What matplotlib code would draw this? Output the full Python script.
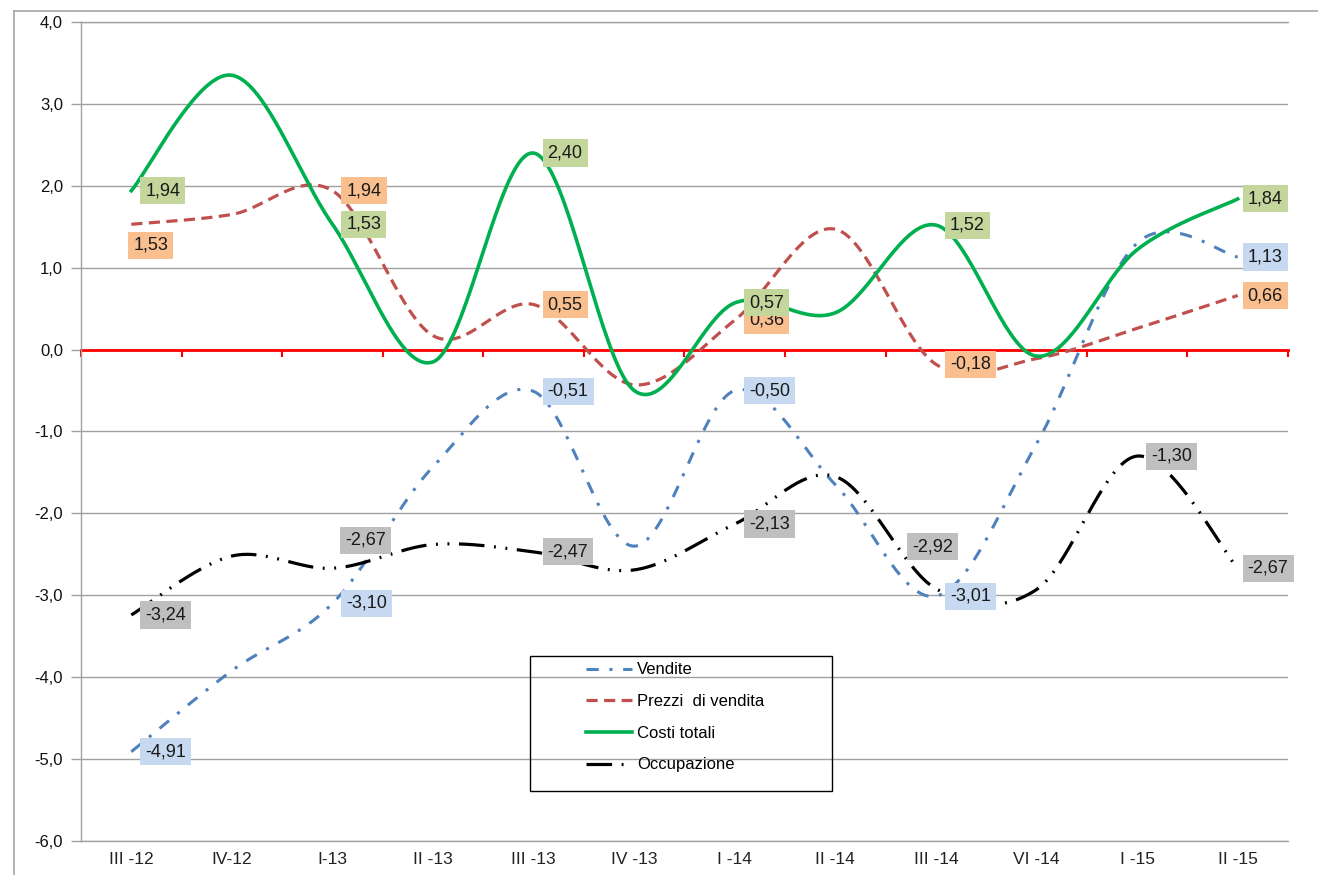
import numpy as np
import matplotlib
matplotlib.use("Agg")
import matplotlib.pyplot as plt
from matplotlib.lines import Line2D
from matplotlib.patches import Rectangle

# dati
trimestri = ["III -12", "IV-12", "I-13", "II -13", "III -13", "IV -13",
             "I -14", "II -14", "III -14", "VI -14", "I -15", "II -15"]
vendite = [-4.91, -3.92, -3.10, -1.43, -0.51, -2.40, -0.50, -1.65, -3.01, -1.15, 1.30, 1.13]
prezzi = [1.53, 1.65, 1.94, 0.17, 0.55, -0.43, 0.36, 1.47, -0.18, -0.11, 0.26, 0.66]
costi = [1.94, 3.35, 1.53, -0.15, 2.40, -0.50, 0.57, 0.45, 1.52, -0.08, 1.22, 1.84]
occupazione = [-3.24, -2.52, -2.67, -2.38, -2.47, -2.69, -2.13, -1.55, -2.92, -2.93, -1.30, -2.67]

# punti con etichetta
idx_vendite = [0, 2, 4, 6, 8, 11]
idx_prezzi = [0, 2, 4, 6, 8, 11]
idx_costi = [0, 2, 4, 6, 8, 11]
idx_occupazione = [0, 2, 4, 6, 8, 10, 11]


def smooth(x, y, n=40):
    # linea smussata tipo Excel (spline di Bezier con tangenti Catmull-Rom)
    pts = np.column_stack([x, y]).astype(float)
    P = np.vstack([pts[0], pts, pts[-1]])
    out = []
    t = np.linspace(0, 1, n)[:, None]
    for i in range(1, len(P) - 2):
        p0, p1, p2, p3 = P[i - 1], P[i], P[i + 1], P[i + 2]
        c1 = p1 + (p2 - p0) / 6
        c2 = p2 - (p3 - p1) / 6
        seg = (1 - t)**3 * p1 + 3 * (1 - t)**2 * t * c1 + 3 * (1 - t) * t**2 * c2 + t**3 * p2
        out.append(seg if i == 1 else seg[1:])
    s = np.vstack(out)
    return s[:, 0], s[:, 1]


def fmt(v):
    return f"{v:.2f}".replace(".", ",")


plt.rcParams['font.family'] = ['Liberation Sans', 'DejaVu Sans']

fig = plt.figure(figsize=(13.18, 8.75), dpi=100)
W, H = 1318, 875
ax = fig.add_axes([81 / W, (H - 841) / H, 1207 / W, 819 / H])

x = np.arange(len(trimestri))

serie = [
    ("Vendite", vendite, "#4F81BD", (0, (4, 3.5, 1, 3.5)), 2.2, "#C6D9F1", idx_vendite),
    ("Prezzi  di vendita", prezzi, "#C0504D", (0, (3.5, 2)), 2.3, "#FABF8F", idx_prezzi),
    ("Costi totali", costi, "#00B050", "-", 2.6, "#C3D69B", idx_costi),
    ("Occupazione", occupazione, "black", (0, (8, 3, 0.6, 3, 0.6, 3)), 2.3, "#BFBFBF", idx_occupazione),
]

handles = []
for nome, vals, col, ls, lw, bg, idx in serie:
    xs, ys = smooth(x, vals)
    h, = ax.plot(xs, ys, color=col, linestyle=ls, lw=lw, zorder=3, label=nome)
    handles.append(h)

# etichette dati (offset in pixel)
offsets = {
    ("Prezzi  di vendita", 0): (2, -21),
    ("Occupazione", 2): (13, 28),
    ("Occupazione", 8): (-24, 42),
}
for nome, vals, col, ls, lw, bg, idx in serie:
    for i in idx:
        dx, dy = offsets.get((nome, i), (10 if i == 11 else 14, 0))
        ax.annotate(fmt(vals[i]), (i, vals[i]), xytext=(dx, dy), textcoords="offset pixels",
                    ha="left", va="center", fontsize=13, color="#1a1a1a", zorder=5,
                    bbox=dict(boxstyle="square,pad=0.28", fc=bg, ec="none"),
                    annotation_clip=False)

ax.set_xlim(-0.5, 11.5)
ax.set_ylim(-6, 4)
ax.set_yticks(np.arange(-6, 5, 1))
ax.set_yticklabels([f"{v:.1f}".replace(".", ",") for v in np.arange(-6, 5, 1)])
ax.set_xticks(x)
ax.set_xticklabels(trimestri, fontsize=12.5)
ax.tick_params(axis="x", length=0, pad=8, colors="#222222")
ax.tick_params(axis="y", length=7, width=1, color="#A0A0A0", pad=6, labelsize=12, labelcolor="#111111")
ax.grid(axis="y", color="#A0A0A0", lw=1, zorder=0)
ax.spines["right"].set_visible(False)
for s in ["left", "bottom", "top"]:
    ax.spines[s].set_color("#A0A0A0")
    ax.spines[s].set_linewidth(1)

# asse delle categorie sullo zero (rosso)
sec = ax.secondary_xaxis(0.6)
sec.set_xticks(np.arange(-0.5, 12, 1))
sec.set_xticklabels([])
sec.tick_params(axis="x", colors="red", length=5, width=1.5, direction="in")
for s in ["top", "bottom"]:
    sec.spines[s].set_color("red")
    sec.spines[s].set_linewidth(2)
for s in ["left", "right"]:
    sec.spines[s].set_visible(False)
sec.set_zorder(2)

# legenda
ax.add_patch(Rectangle((0.372, 0.061), 0.25, 0.165, transform=ax.transAxes,
                       fill=False, ec="black", lw=1, zorder=6))
ax.legend(handles=handles, loc="upper left", bbox_to_anchor=(0.418, 0.218),
          frameon=False, fontsize=12, handlelength=2.8, handletextpad=0.3,
          labelspacing=1.0, borderpad=0, borderaxespad=0)

# cornice esterna
fig.add_artist(Line2D([14 / W, 1], [1 - 11 / H, 1 - 11 / H], color="#A6A6A6", lw=1.2))
fig.add_artist(Line2D([14 / W, 14 / W], [0, 1 - 11 / H], color="#A6A6A6", lw=1.2))

fig.savefig("out.png", dpi=100)
